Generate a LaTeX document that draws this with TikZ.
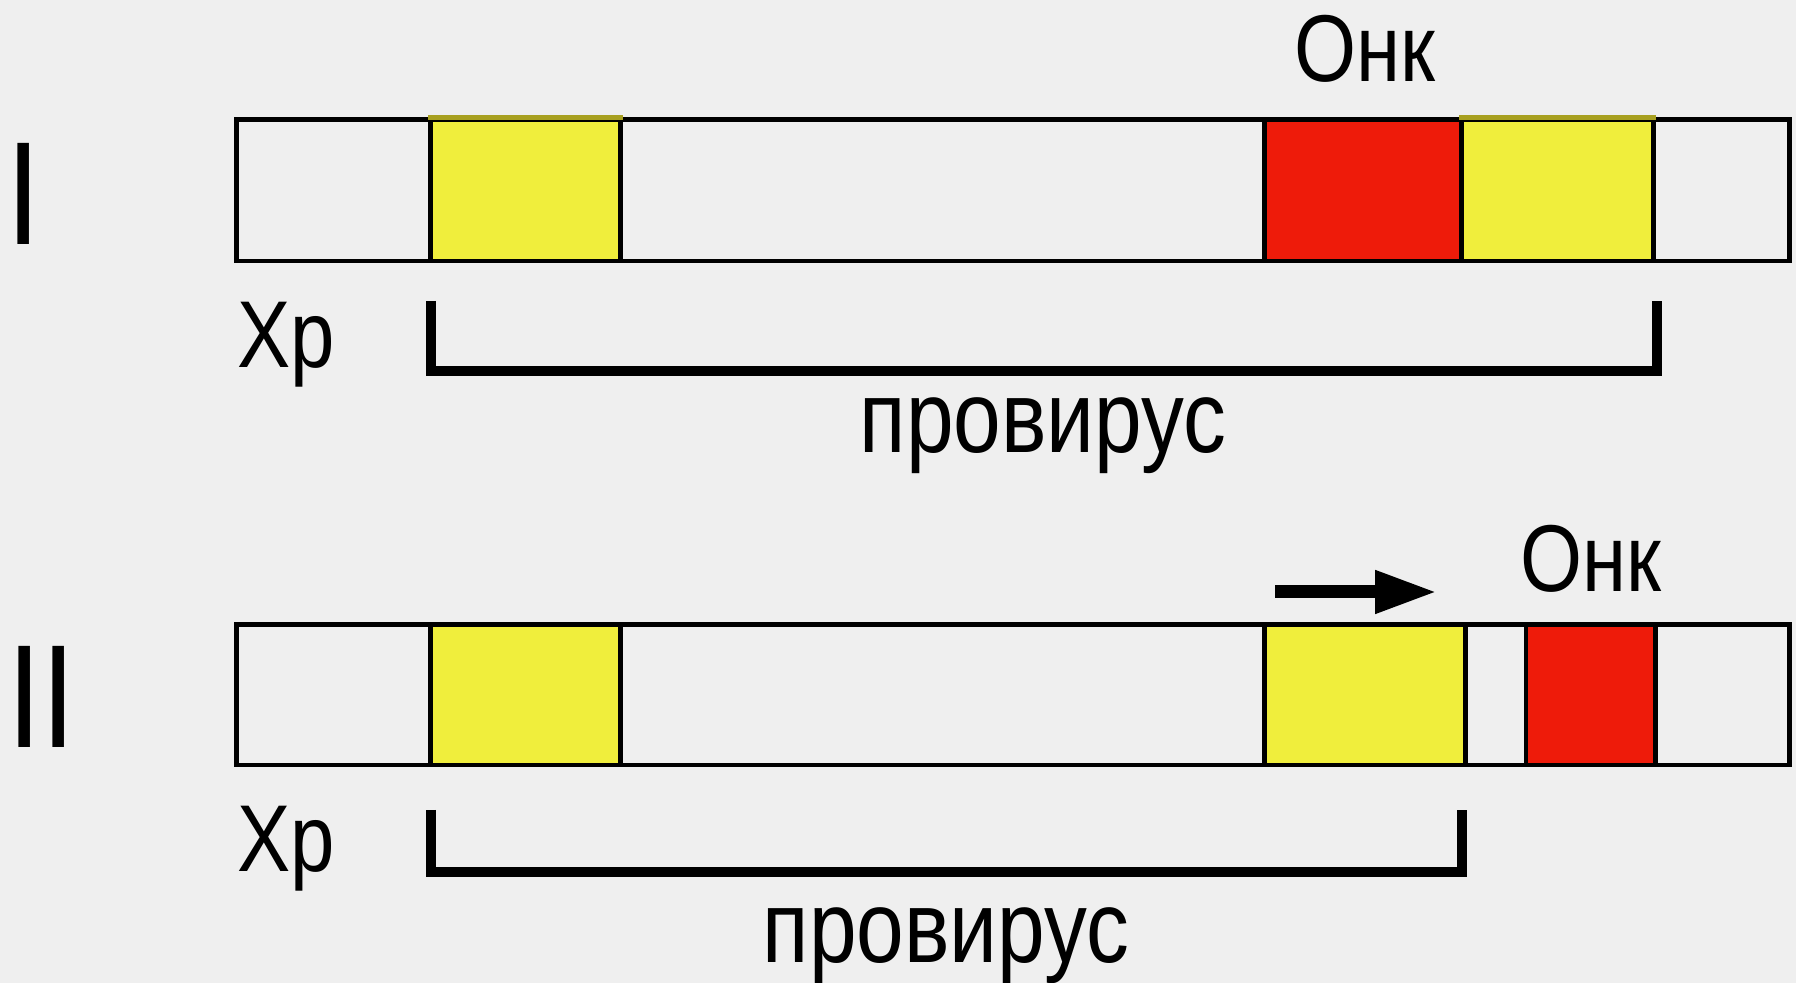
\documentclass[tikz,border=0pt]{standalone}
\usepackage{fontspec}
\setmainfont{Liberation Sans}
\newfontfamily\narrowsans[FakeStretch=0.84]{Liberation Sans}
\usetikzlibrary{arrows.meta}

\definecolor{bgray}{HTML}{EFEFEF}
\definecolor{geneyellow}{HTML}{F0EE3C}
\definecolor{oncred}{HTML}{EE1B0A}
\definecolor{olive}{HTML}{A8A020}

\tikzset{
  bar/.style={draw=black, line width=1.4pt, fill=bgray, inner sep=0pt,
    minimum width=155.2mm},
  seg/.style={draw=black, line width=1.4pt, inner sep=0pt},
  ltr/.style={fill=geneyellow},
  onc/.style={fill=oncred},
  lbl/.style={inner sep=0pt, font=\narrowsans\fontsize{27}{27}\selectfont},
  prov/.style={inner sep=0pt, font=\narrowsans\fontsize{29}{29}\selectfont},
  roman/.style={inner sep=0pt, font=\narrowsans\fontsize{41.8}{41.8}\selectfont},
  bracket/.style={line width=3.1pt, line join=miter},
  promoter/.style={line width=3.7pt, -{Triangle[length=17.6pt, width=11.4pt]}}
}

\begin{document}
\begin{tikzpicture}[x=0.01cm, y=-0.01cm]
  % canvas
  \fill[bgray] (0,0) rectangle (1796,983);
  \useasboundingbox (0,0) rectangle (1796,983);

  % ---------- row I ----------
  \node[bar, minimum height=14.1mm] (barI) at (1013,190.5) {};
  \node[seg, ltr, minimum width=18.9mm, minimum height=14.1mm] (ltrIa) at (525.5,190.5) {};
  \node[seg, onc, minimum width=19.75mm, minimum height=14.1mm] (oncI) at (1363.25,190.5) {};
  \node[seg, ltr, minimum width=19.15mm, minimum height=14.1mm] (ltrIb) at (1557.75,190.5) {};
  \draw[olive, line width=1.4pt] (ltrIa.north west) -- (ltrIa.north east);
  \draw[olive, line width=1.4pt] (ltrIb.north west) -- (ltrIb.north east);

  \node[roman, anchor=base] (romI) at (23.5,245) {I};
  \node[lbl, anchor=base] (onkI) at (1365,82) {Онк};
  \node[lbl, anchor=base west] (chrI) at (237,368) {Хр};

  \coordinate (bIa) at (431,301);
  \coordinate (bIb) at (1657,301);
  \draw[bracket] (bIa) -- (431,371) -- (1657,371) -- (bIb);
  \node[prov, anchor=base] (provI) at (1043,453) {провирус};

  % ---------- row II ----------
  \node[bar, minimum height=14.0mm] (barII) at (1013,695) {};
  \node[seg, ltr, minimum width=18.9mm, minimum height=14.0mm] (ltrIIa) at (525.5,695) {};
  \node[seg, ltr, minimum width=20.05mm, minimum height=14.0mm] (ltrIIb) at (1364.75,695) {};
  \node[seg, onc, minimum width=12.9mm, minimum height=14.0mm] (oncII) at (1590.5,695) {};

  \node[roman, anchor=base] (romII) at (41.5,748) {II};
  \node[lbl, anchor=base] (onkII) at (1591,592) {Онк};
  \node[lbl, anchor=base west] (chrII) at (237,872) {Хр};

  \coordinate (pStart) at (1275,592);
  \coordinate (pEnd) at (1437,592);
  \draw[promoter] (pStart) -- (pEnd);

  \coordinate (bIIa) at (431,810);
  \coordinate (bIIb) at (1462,810);
  \draw[bracket] (bIIa) -- (431,872) -- (1462,872) -- (bIIb);
  \node[prov, anchor=base] (provII) at (946,963) {провирус};
\end{tikzpicture}
\end{document}
